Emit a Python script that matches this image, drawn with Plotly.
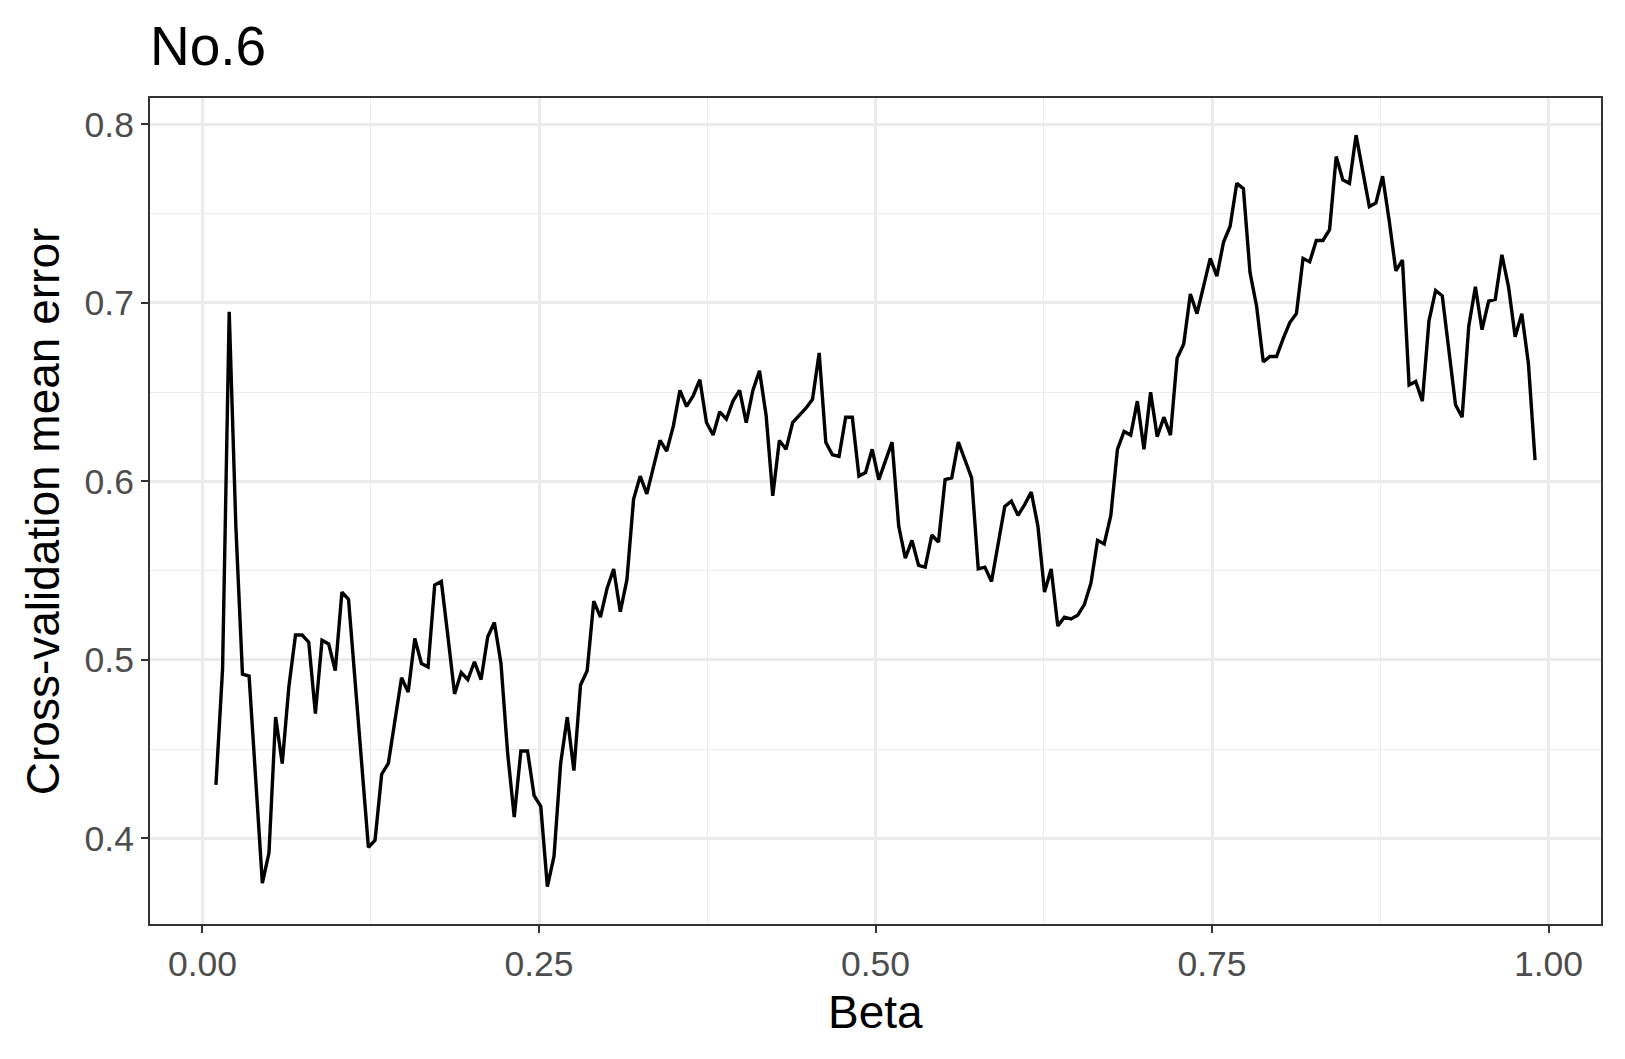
import numpy as np
import plotly.graph_objects as go

# Beta grid: 200 evenly spaced values from 0.01 to 0.99 (as read from vertex spacing)
beta = np.linspace(0.01, 0.99, 200)

cv_error = [
    0.430, 0.495, 0.695, 0.575, 0.492, 0.491, 0.433, 0.375, 0.392, 0.468,
    0.442, 0.485, 0.514, 0.514, 0.510, 0.470, 0.511, 0.509, 0.494, 0.538,
    0.534, 0.488, 0.442, 0.395, 0.399, 0.436, 0.442, 0.467, 0.490, 0.482,
    0.512, 0.498, 0.496, 0.542, 0.544, 0.513, 0.481, 0.493, 0.489, 0.499,
    0.489, 0.513, 0.521, 0.498, 0.448, 0.412, 0.449, 0.449, 0.424, 0.418,
    0.373, 0.390, 0.442, 0.468, 0.438, 0.486, 0.494, 0.533, 0.524, 0.540,
    0.551, 0.527, 0.545, 0.590, 0.603, 0.593, 0.608, 0.623, 0.617, 0.631,
    0.651, 0.642, 0.648, 0.657, 0.633, 0.626, 0.639, 0.635, 0.645, 0.651,
    0.633, 0.651, 0.662, 0.637, 0.592, 0.623, 0.618, 0.633, 0.637, 0.641,
    0.646, 0.672, 0.622, 0.615, 0.614, 0.636, 0.636, 0.603, 0.605, 0.618,
    0.601, 0.612, 0.622, 0.575, 0.557, 0.567, 0.553, 0.552, 0.570, 0.566,
    0.601, 0.602, 0.622, 0.612, 0.602, 0.551, 0.552, 0.544, 0.565, 0.586,
    0.589, 0.581, 0.587, 0.594, 0.575, 0.538, 0.551, 0.519, 0.524, 0.523,
    0.525, 0.531, 0.543, 0.567, 0.565, 0.581, 0.618, 0.628, 0.626, 0.645,
    0.618, 0.650, 0.625, 0.636, 0.626, 0.669, 0.677, 0.705, 0.694, 0.709,
    0.725, 0.715, 0.734, 0.743, 0.767, 0.764, 0.717, 0.698, 0.667, 0.670,
    0.670, 0.680, 0.689, 0.694, 0.725, 0.723, 0.735, 0.735, 0.741, 0.782,
    0.769, 0.767, 0.794, 0.774, 0.754, 0.756, 0.771, 0.746, 0.718, 0.724,
    0.654, 0.656, 0.645, 0.690, 0.707, 0.704, 0.672, 0.643, 0.636, 0.687,
    0.709, 0.685, 0.701, 0.702, 0.727, 0.709, 0.681, 0.694, 0.666, 0.612,
]

x_ticks = [0.0, 0.25, 0.5, 0.75, 1.0]
x_tick_labels = ["0.00", "0.25", "0.50", "0.75", "1.00"]
y_ticks = [0.4, 0.5, 0.6, 0.7, 0.8]
y_tick_labels = ["0.4", "0.5", "0.6", "0.7", "0.8"]

title_text = "No.6"
x_title = "Beta"
y_title = "Cross-validation mean error"

FONT = "Liberation Sans, Arial, sans-serif"
W, H = 1609, 1043
ML, MR, MT, MB = 142, 16, 90, 127

fig = go.Figure()
fig.add_trace(go.Scatter(
    x=beta, y=cv_error, mode="lines",
    line=dict(color="black", width=3.4),
    showlegend=False, hoverinfo="skip",
))

grid_major = "#EBEBEB"
axis_common = dict(
    showline=True, linecolor="#333333", linewidth=2, mirror=True,
    ticks="outside", ticklen=7, tickwidth=2, tickcolor="#333333",
    tickfont=dict(family=FONT, size=35.5, color="#4D4D4D"),
    showgrid=True, gridcolor=grid_major, gridwidth=2.7,
    zeroline=False,
)

fig.update_xaxes(
    range=[-0.039, 1.039], tickvals=x_ticks, ticktext=x_tick_labels,
    minor=dict(dtick=0.125, tick0=0.125, showgrid=True, gridcolor=grid_major, gridwidth=1.4, ticks=""),
    **axis_common,
)
fig.update_yaxes(
    range=[0.3521, 0.8148], tickvals=y_ticks, ticktext=y_tick_labels,
    minor=dict(dtick=0.05, tick0=0.45, showgrid=True, gridcolor=grid_major, gridwidth=1.4, ticks=""),
    **axis_common,
)

fig.update_layout(
    width=W, height=H,
    margin=dict(l=ML, r=MR, t=MT, b=MB, autoexpand=False),
    paper_bgcolor="white", plot_bgcolor="white",
    font=dict(family=FONT, color="black"),
    title=dict(text=title_text, x=ML / W, xanchor="left", xref="container",
               y=1 - 38 / H, yanchor="middle", yref="container",
               font=dict(family=FONT, size=55, color="black")),
    annotations=[
        dict(text=x_title, xref="paper", yref="paper", x=0.5, y=-(1004.6 - 916.5) / 826,
             xanchor="center", yanchor="middle", showarrow=False,
             font=dict(family=FONT, size=46, color="black")),
        dict(text=y_title, xref="paper", yref="paper", x=-(142.3 - 35.5) / 1451, y=0.5,
             xanchor="center", yanchor="middle", showarrow=False, textangle=-90,
             font=dict(family=FONT, size=46, color="black")),
    ],
)

fig.write_html("out.html")
